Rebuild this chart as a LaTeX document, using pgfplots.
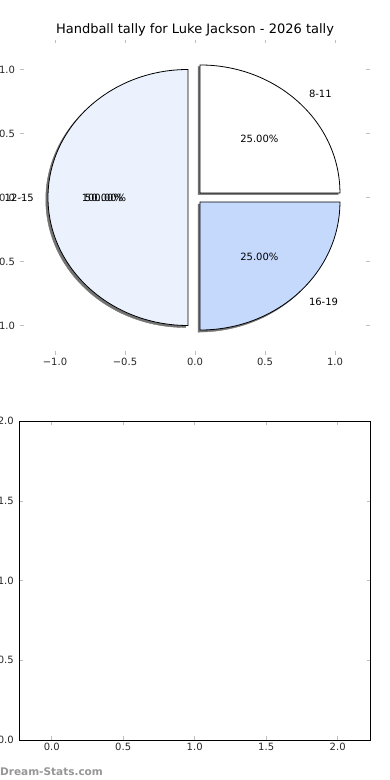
\documentclass[border=0pt]{standalone}
\usepackage{fontspec}
\setmainfont{DejaVu Sans}
\usepackage{pgfplots}
\pgfplotsset{compat=1.18}
\definecolor{wA}{RGB}{255,255,255}
\definecolor{wB}{RGB}{235,242,254}
\definecolor{wC}{RGB}{197,217,253}
\definecolor{tickgray}{RGB}{190,190,190}
\definecolor{wm}{RGB}{150,150,150}
\definecolor{shadowc}{RGB}{115,115,115}
% slice: [style]{centre x}{centre y}{start angle}{end angle}; radius 1 in axis units (x: 140pt, y: 128pt)
\newcommand{\slice}[5][]{\draw[#1] (axis cs:#2,#3) -- ++({140pt*cos(#4)},{128pt*sin(#4)}) arc[start angle=#4,end angle=#5,x radius=140pt,y radius=128pt] -- cycle;}
\begin{document}
\begin{tikzpicture}
% ---------------- pie axis ----------------
\begin{axis}[
  at={(20.5pt,425pt)}, anchor=south west, scale only axis,
  width=349pt, height=315pt,
  xmin=-1.246428, xmax=1.246428, ymin=-1.230469, ymax=1.230469,
  axis line style={draw=none},
  tick style={tickgray, line width=0.8pt},
  major tick length=3.5pt, tick align=inside,
  xtick={-1,-0.5,0,0.5,1}, xticklabels={−1.0,−0.5,0.0,0.5,1.0},
  ytick={-1,-0.5,0,0.5,1}, yticklabels={−1.0,−0.5,0.0,0.5,1.0},
  tick label style={font=\fontsize{10}{12}\selectfont, text=black!85},
  yticklabel style={xshift=-2pt},
  clip=false,
]
% data: 8-11 25%, 12-15 50%, 16-19 25%  -> angles 0-90, 90-270, 270-360, explode 0.05
% shadows
\slice[fill=shadowc, draw=shadowc, line width=0.4pt]{0.022355}{0.022355}{0}{90}
\slice[fill=shadowc, draw=shadowc, line width=0.4pt]{-0.066}{-0.016}{90}{270}
\slice[fill=shadowc, draw=shadowc, line width=0.4pt]{0.022355}{-0.051355}{270}{360}
% wedges
\slice[fill=wA, draw=black, line width=0.8pt]{0.035355}{0.035355}{0}{90}
\slice[fill=wB, draw=black, line width=0.8pt]{-0.05}{0}{90}{270}
\slice[fill=wC, draw=black, line width=0.8pt]{0.035355}{-0.035355}{270}{360}
% labels
\node[anchor=west, font=\fontsize{10}{12}\selectfont, inner sep=0] at (axis cs:0.813,0.813) {8-11};
\node[anchor=east, font=\fontsize{10}{12}\selectfont, inner sep=0] at (axis cs:-1.15,0) {12-15};
\node[anchor=west, font=\fontsize{10}{12}\selectfont, inner sep=0] at (axis cs:0.813,-0.813) {16-19};
\node[font=\fontsize{10}{12}\selectfont, inner sep=0] at (axis cs:0.46,0.46) {25.00\%};
\node[font=\fontsize{10}{12}\selectfont, inner sep=0] at (axis cs:-0.65,0) {50.00\%};
\node[font=\fontsize{10}{12}\selectfont, inner sep=0] at (axis cs:-0.65,0) {100.00\%};
\node[font=\fontsize{10}{12}\selectfont, inner sep=0] at (axis cs:0.46,-0.46) {25.00\%};
\end{axis}
% ---------------- empty axis ----------------
\begin{axis}[
  at={(19.3pt,40pt)}, anchor=south west, scale only axis,
  width=350.7pt, height=318.7pt,
  xmin=-0.2266, xmax=2.226, ymin=0, ymax=2,
  axis line style={black, line width=0.8pt},
  tick style={tickgray, line width=0.8pt},
  major tick length=3.5pt, tick align=inside,
  xtick={0,0.5,1,1.5,2}, xticklabels={0.0,0.5,1.0,1.5,2.0},
  ytick={0,0.5,1,1.5,2}, yticklabels={0.0,0.5,1.0,1.5,2.0},
  tick label style={font=\fontsize{10}{12}\selectfont, text=black!85},
  yticklabel style={xshift=-2pt},
]
\addplot[draw=none] coordinates {(0,0)};
\end{axis}
% title and watermark
\node[anchor=base, font=\fontsize{13}{15}\selectfont, inner sep=0] at (195pt,746pt) {Handball tally for Luke Jackson - 2026 tally};
\node[anchor=base west, text=wm, font=\bfseries\fontsize{10.5}{12}\selectfont, inner sep=0] at (0pt,4.6pt) {Dream-Stats.com};
\pgfresetboundingbox
\useasboundingbox (0,0) rectangle (390pt,780pt);
\end{tikzpicture}
\end{document}
